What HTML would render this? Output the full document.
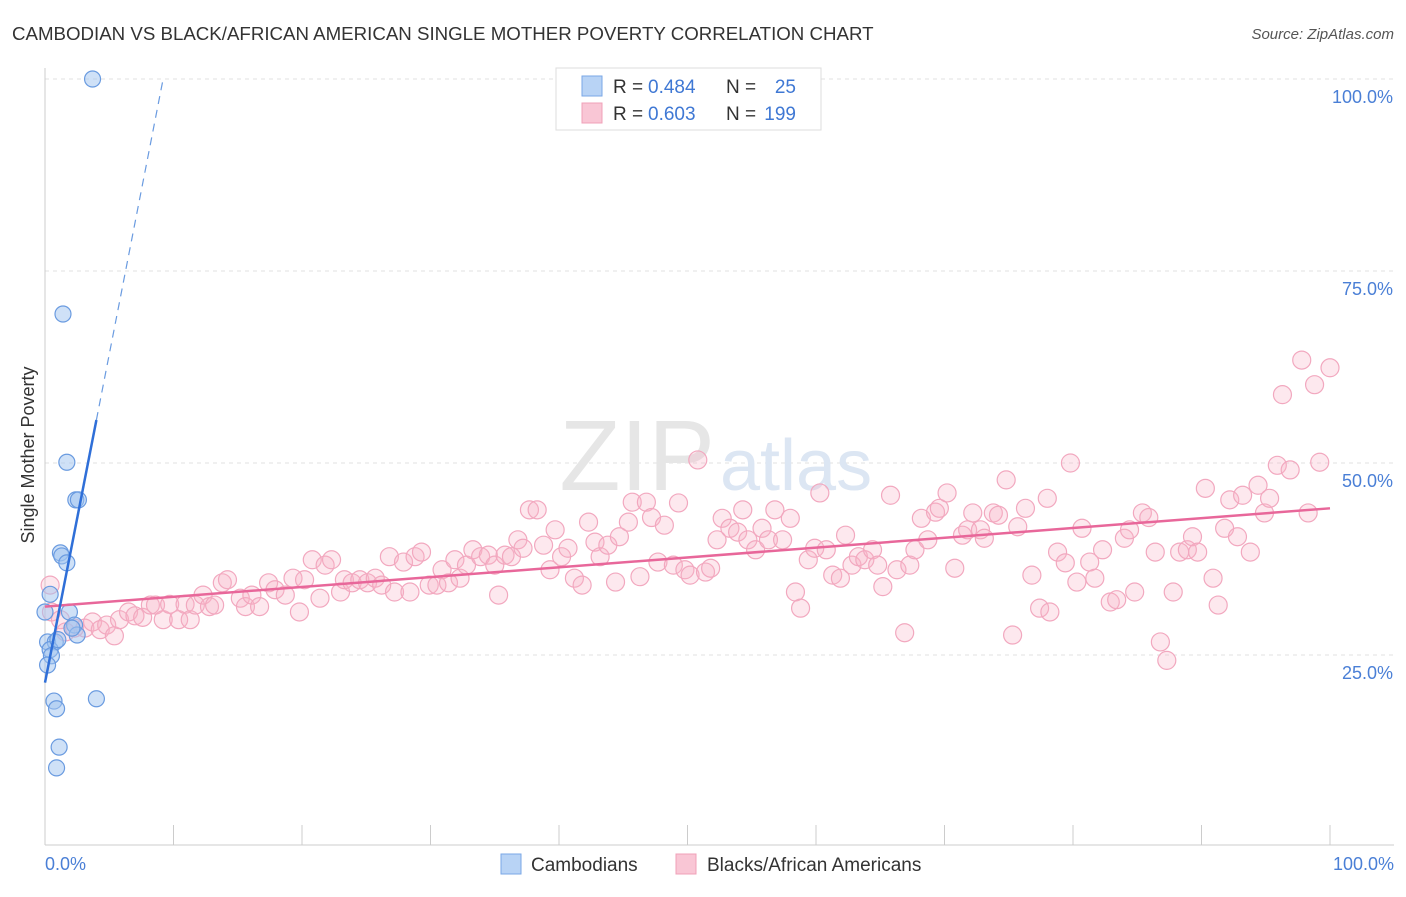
<!DOCTYPE html>
<html><head><meta charset="utf-8"><style>
body{margin:0;background:#fff;font-family:"Liberation Sans",sans-serif}
svg text{font-family:"Liberation Sans",sans-serif}
</style></head><body>
<svg id="chart" width="1406" height="892">
<text x="12" y="40" font-size="18.7" fill="#333">CAMBODIAN VS BLACK/AFRICAN AMERICAN SINGLE MOTHER POVERTY CORRELATION CHART</text>
<text x="1394" y="39" font-size="15" fill="#555" font-style="italic" text-anchor="end">Source: ZipAtlas.com</text>
<g id="grid"></g>
<text x="715" y="490" font-size="100" fill="#e6e6e6" font-family="Liberation Serif" text-anchor="end">ZIP</text>
<text x="720" y="490" font-size="72" fill="#dce6f3">atlas</text>
<line x1="45" y1="68" x2="45" y2="845" stroke="#ccc"/>
<line x1="45" y1="845" x2="1394" y2="845" stroke="#ccc"/>
<g id="ticks"></g>
<g id="pink"></g>
<g id="blue"></g>
<g id="trends"></g>
<text x="34" y="455" font-size="18" fill="#333" text-anchor="middle" transform="rotate(-90 34 455)">Single Mother Poverty</text>
<text x="45" y="870" font-size="18" fill="#4a7fd6">0.0%</text>
<text x="1394" y="870" font-size="18" fill="#4a7fd6" text-anchor="end">100.0%</text>
<g>
<rect x="556" y="68" width="265" height="62" fill="#fff" stroke="#ddd"/>
<rect x="582" y="76" width="20" height="20" fill="#b8d3f5" stroke="#7aa7e6"/>
<rect x="582" y="103" width="20" height="20" fill="#f9c6d5" stroke="#f0a0b8"/>
<text x="613" y="93" font-size="19" fill="#333">R =</text>
<text x="648" y="93" font-size="19" fill="#3f78d4">0.484</text>
<text x="726" y="93" font-size="19" fill="#333">N =</text>
<text x="796" y="93" font-size="19" fill="#3f78d4" text-anchor="end">25</text>
<text x="613" y="120" font-size="19" fill="#333">R =</text>
<text x="648" y="120" font-size="19" fill="#3f78d4">0.603</text>
<text x="726" y="120" font-size="19" fill="#333">N =</text>
<text x="796" y="120" font-size="19" fill="#3f78d4" text-anchor="end">199</text>
</g>
<g>
<rect x="501" y="854" width="20" height="20" fill="#b8d3f5" stroke="#7aa7e6"/>
<text x="531" y="871" font-size="19" fill="#333">Cambodians</text>
<rect x="676" y="854" width="20" height="20" fill="#f9c6d5" stroke="#f0a0b8"/>
<text x="707" y="871" font-size="19" fill="#333">Blacks/African Americans</text>
</g>
</svg>
<script>
const yTicks=[25,50,75,100];
const yTickLabels=["25.0%","50.0%","75.0%","100.0%"];
const xTicks=[10,20,30,40,50,60,70,80,90,100];
const blueX=[3.7,1.4,1.7,2.4,2.6,1.2,1.3,1.7,0.4,1.9,2.3,0.2,0.8,0.4,0.5,2.5,4.0,0.7,0.9,1.1,0.9,0.2,2.1,1.0,0];
const blueY=[100,69.4,50.1,45.2,45.2,38.3,37.9,37.0,32.9,30.6,28.9,26.7,26.7,25.7,24.9,27.6,19.3,19.0,18.0,13.0,10.3,23.7,28.5,27.0,30.6];
const pinkX=[0.4,0.5,1.2,1.6,2.3,3.1,3.7,4.3,4.8,5.4,5.8,6.5,7.0,7.6,8.2,8.6,9.2,9.7,10.4,10.9,11.3,11.7,12.3,12.8,13.2,13.8,14.2,15.2,15.6,16.1,16.7,17.4,17.9,18.7,19.3,19.8,20.2,20.8,21.4,21.8,22.3,23.0,23.3,23.9,24.5,25.1,25.7,26.2,26.8,27.2,27.9,28.4,28.8,29.3,29.9,30.5,30.9,31.4,31.9,32.3,32.8,33.3,33.9,34.5,35.0,35.3,35.8,36.3,36.8,37.2,37.7,38.3,38.8,39.3,39.7,40.2,40.7,41.2,41.8,42.3,42.8,43.2,43.8,44.4,44.7,45.4,45.7,46.3,46.8,47.2,47.7,48.2,48.9,49.3,49.8,50.2,50.8,51.4,51.8,52.3,52.7,53.3,53.9,54.3,54.7,55.3,55.8,56.3,56.8,57.4,58.0,58.4,58.8,59.4,59.9,60.3,60.8,61.3,61.9,62.3,62.8,63.3,63.8,64.4,64.8,65.2,65.8,66.3,66.9,67.3,67.7,68.2,68.7,69.3,69.6,70.2,70.8,71.4,71.8,72.2,72.8,73.1,73.8,74.2,74.8,75.3,75.7,76.3,76.8,77.4,78.0,78.2,78.8,79.4,79.8,80.3,80.7,81.3,81.7,82.3,82.9,83.4,84.0,84.4,84.8,85.4,85.9,86.4,86.8,87.3,87.8,88.3,88.9,89.3,89.7,90.3,90.9,91.3,91.8,92.2,92.8,93.2,93.8,94.4,94.9,95.3,95.9,96.3,96.9,97.8,98.3,98.8,99.2,100];
const pinkY=[34.1,30.6,29.6,28.0,28.5,28.5,29.3,28.3,28.9,27.5,29.6,30.6,30.1,29.9,31.5,31.5,29.6,31.6,29.6,31.6,29.6,31.5,32.8,31.3,31.5,34.4,34.8,32.4,31.3,32.8,31.3,34.4,33.5,32.8,35.0,30.6,34.8,37.4,32.4,36.7,37.4,33.2,34.8,34.4,34.8,34.4,35.0,34.1,37.8,33.2,37.1,33.2,37.8,38.4,34.1,34.1,36.1,34.4,37.4,35.0,36.7,38.7,37.8,38.0,36.7,32.8,38.0,37.8,40.0,38.9,43.9,43.9,39.3,36.1,41.3,37.8,38.9,35.0,34.1,42.3,39.7,37.8,39.3,34.5,40.4,42.3,44.9,35.2,44.9,42.9,37.1,41.9,36.7,44.8,36.1,35.4,50.4,35.8,36.3,40.0,42.8,41.5,41.0,43.9,40.0,38.7,41.5,40.0,43.9,40.0,42.8,33.2,31.1,37.4,38.9,46.1,38.7,35.4,35.0,40.6,36.7,37.8,37.4,38.7,36.7,33.9,45.8,36.1,27.9,36.7,38.7,42.8,40.0,43.6,44.1,46.1,36.3,40.6,41.3,43.5,41.3,40.2,43.5,43.2,47.8,27.6,41.7,44.1,35.4,31.1,45.4,30.6,38.4,37.0,50.0,34.5,41.5,37.1,35.0,38.7,31.9,32.2,40.2,41.3,33.2,43.5,42.9,38.4,26.7,24.3,33.2,38.4,38.7,40.4,38.4,46.7,35.0,31.5,41.5,45.2,40.4,45.8,38.4,47.1,43.5,45.4,49.7,58.9,49.1,63.4,43.5,60.2,50.1,62.4];
const pinkTrend=[31.3,44.1];   // y at x=0, x=100
const blueTrend=[21.4,8.55];   // intercept, slope
const NS="http://www.w3.org/2000/svg";
const xs=v=>45+v*12.85, ys=v=>847-v*7.68;
function mk(tag,attrs,parent){const e=document.createElementNS(NS,tag);for(const k in attrs)e.setAttribute(k,attrs[k]);document.getElementById(parent).appendChild(e);return e;}
yTicks.forEach((t,i)=>{
 const l=mk('line',{x1:45,x2:1394,y1:ys(t),y2:ys(t),stroke:'#e0e0e0','stroke-dasharray':'4,4'},'grid');
 
 
 const tx=mk('text',{x:1393,y:ys(t)+24,'font-size':18,fill:'#4a7fd6','text-anchor':'end'},'grid');
 tx.textContent=yTickLabels[i];
 
 
});
xTicks.forEach(t=>{
 const l=mk('line',{x1:xs(t),x2:xs(t),y1:825,y2:845,stroke:'#ccc'},'ticks');
 
 
});
pinkX.forEach((x,i)=>{
 const c=mk('circle',{cx:xs(x),cy:ys(pinkY[i]),r:9,fill:'rgba(248,180,200,0.3)',stroke:'#f2a8bf','stroke-width':1.2},'pink');
 
 
});
blueX.forEach((x,i)=>{
 const c=mk('circle',{cx:xs(x),cy:ys(blueY[i]),r:8,fill:'rgba(160,196,240,0.5)',stroke:'#6a9be0','stroke-width':1.2},'blue');
 
 
});
const pt=mk('line',{x1:xs(0),y1:ys(pinkTrend[0]),x2:xs(100),y2:ys(pinkTrend[1]),stroke:'#e8679a','stroke-width':2.5},'trends');


const bEnd=4.0, bDash=(100-blueTrend[0])/blueTrend[1];
const bt=mk('line',{x1:xs(0),y1:ys(blueTrend[0]),x2:xs(bEnd),y2:ys(blueTrend[0]+blueTrend[1]*bEnd),stroke:'#2f6fd8','stroke-width':2.5},'trends');


const bd=mk('line',{x1:xs(bEnd),y1:ys(blueTrend[0]+blueTrend[1]*bEnd),x2:xs(bDash),y2:ys(100),stroke:'#6a9be0','stroke-width':1.2,'stroke-dasharray':'8,6'},'trends');


</script>
</body></html>
